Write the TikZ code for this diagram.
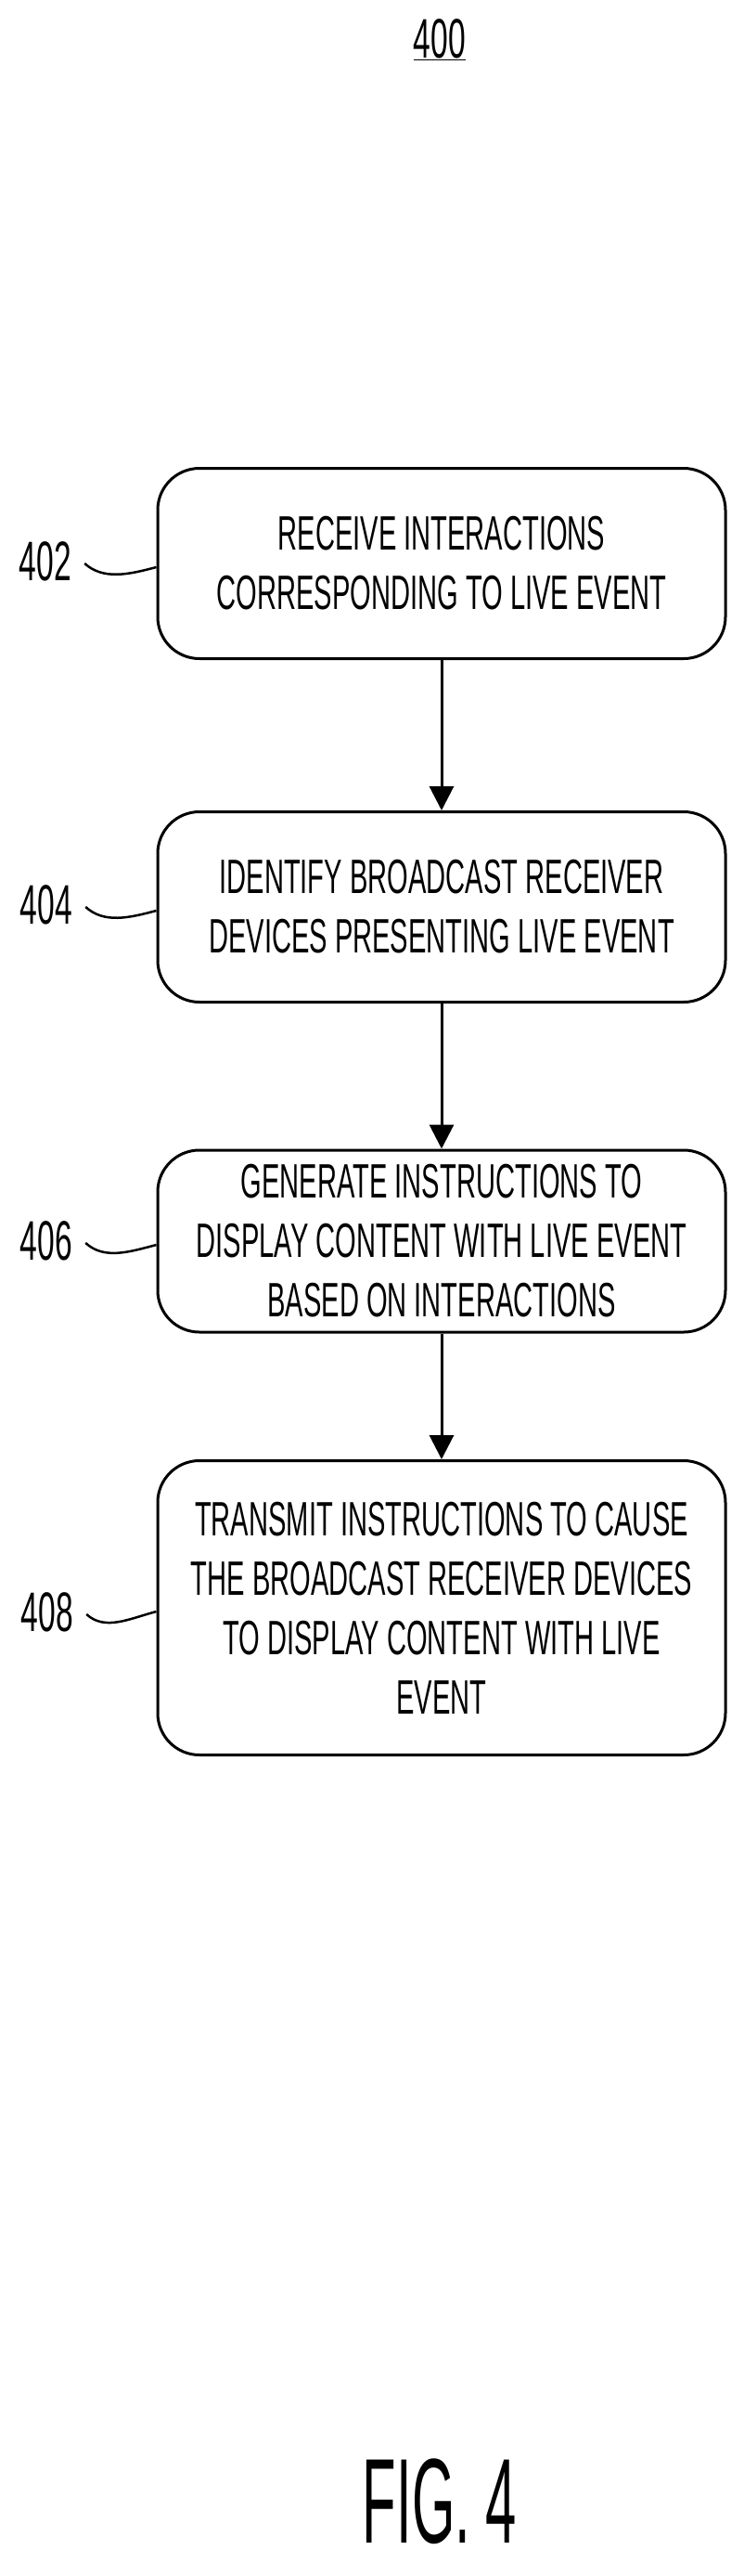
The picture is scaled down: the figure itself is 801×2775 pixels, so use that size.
\documentclass[tikz,border=0pt]{standalone}
\usepackage{fontspec}
\setmainfont{Liberation Sans}
\newfontfamily\nar[FakeStretch=0.56]{Liberation Sans}
\newfontfamily\fignar[FakeStretch=0.46]{Liberation Sans}
\usetikzlibrary{arrows.meta}
\begin{document}
\begin{tikzpicture}[x=1pt,y=-1pt,
  box/.style={draw,line width=3pt,rounded corners=45pt,minimum width=612pt,align=center,
    font=\nar\fontsize{52}{64}\selectfont,inner sep=0pt},
  lab/.style={font=\nar\fontsize{60}{60}\selectfont,inner sep=0pt},
  arr/.style={line width=3pt,-{Triangle[length=26pt,width=26pt]}},
  sq/.style={line width=2.5pt}]
\useasboundingbox (0,0) rectangle (801,2775);
\node[lab] (t400) at (474,43) {\underline{400}};
\node[box,minimum height=205pt] (b402) at (476,607) {RECEIVE INTERACTIONS\\CORRESPONDING TO LIVE EVENT};
\node[box,minimum height=205pt] (b404) at (476,977) {IDENTIFY BROADCAST RECEIVER\\DEVICES PRESENTING LIVE EVENT};
\node[box,minimum height=196pt] (b406) at (476,1337) {GENERATE INSTRUCTIONS TO\\DISPLAY CONTENT WITH LIVE EVENT\\BASED ON INTERACTIONS};
\node[box,minimum height=317pt] (b408) at (476,1732) {TRANSMIT INSTRUCTIONS TO CAUSE\\THE BROADCAST RECEIVER DEVICES\\TO DISPLAY CONTENT WITH LIVE\\EVENT};
\node[lab] (l402) at (49,605) {402};
\node[lab] (l404) at (50,975) {404};
\node[lab] (l406) at (50,1337) {406};
\node[lab] (l408) at (51,1737) {408};
\draw[arr] (b402.south) -- (b404.north);
\draw[arr] (b404.south) -- (b406.north);
\draw[arr] (b406.south) -- (b408.north);
\foreach \n in {402,404,406,408}{
  \draw[sq] ([xshift=14pt,yshift=-2pt]l\n.east) .. controls +(20,18) and +(-30,8) .. ([yshift=-4pt]b\n.west);
}
\node[font=\fignar\fontsize{130}{130}\selectfont,inner sep=0pt] (fig) at (474,2695) {FIG. 4};
\end{tikzpicture}
\end{document}
